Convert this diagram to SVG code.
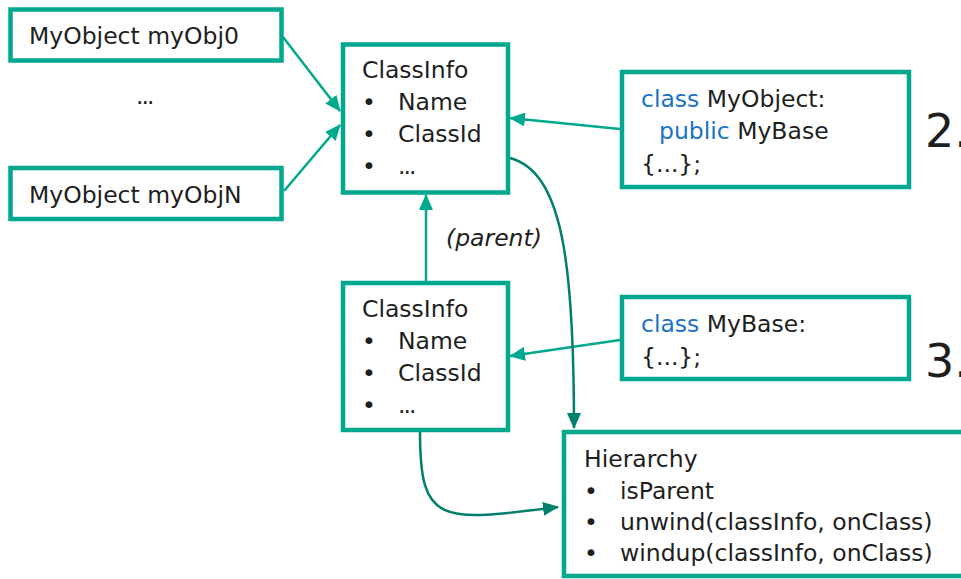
<svg xmlns="http://www.w3.org/2000/svg" width="961" height="579" viewBox="0 0 961 579">
<defs>
<style>
.box{fill:#fff;stroke:#00A88E;stroke-width:4.5}
.t{font-family:"DejaVu Sans",sans-serif;font-size:23.5px;fill:#1e1e1e}
.kw{fill:#1a73c4}
.big{font-family:"DejaVu Sans",sans-serif;font-size:46px;fill:#1e1e1e}
.it{font-family:"DejaVu Sans",sans-serif;font-size:23.5px;font-style:italic;fill:#1e1e1e}
.ln{fill:none;stroke:#00A88E;stroke-width:2.5}
.dk{fill:none;stroke:#00806C;stroke-width:2.5}
</style>
<marker id="a" markerUnits="userSpaceOnUse" markerWidth="16" markerHeight="14" refX="15" refY="7" orient="auto"><path d="M0,0 L16,7 L0,14 z" fill="#00A88E"/></marker>
<marker id="d" markerUnits="userSpaceOnUse" markerWidth="16" markerHeight="14" refX="15" refY="7" orient="auto"><path d="M0,0 L16,7 L0,14 z" fill="#00806C"/></marker>
</defs>
<rect width="961" height="579" fill="#fff"/>
<g id="connectors">
<path class="ln" d="M283,37 L340,111" marker-end="url(#a)"/>
<path class="ln" d="M284,191 L340,125" marker-end="url(#a)"/>
<path class="ln" d="M620,129 L510,118" marker-end="url(#a)"/>
<path class="ln" d="M426,281 L426,195" marker-end="url(#a)"/>
<path class="ln" d="M620,340 L510,356" marker-end="url(#a)"/>
<path class="dk" d="M510,158 C562,172 574,260 574,428" marker-end="url(#d)"/>
<path class="dk" d="M420,432 C420,525 440,522 558,507" marker-end="url(#d)"/>
</g>
<g id="obj0">
<rect class="box" x="10.5" y="9.5" width="271" height="51"/>
<text class="t" x="29" y="44">MyObject myObj0</text>
</g>
<text class="t" x="136" y="104" style="letter-spacing:-2px">...</text>
<g id="objN">
<rect class="box" x="10.5" y="168" width="271" height="51"/>
<text class="t" x="29" y="203">MyObject myObjN</text>
</g>
<g id="classinfo1">
<rect class="box" x="343" y="44.5" width="165" height="148"/>
<text class="t" x="362" y="78">ClassInfo</text>
<text class="t" x="362" y="110">•</text><text class="t" x="398" y="110">Name</text>
<text class="t" x="362" y="142">•</text><text class="t" x="398" y="142">ClassId</text>
<text class="t" x="362" y="174">•</text><text class="t" x="398" y="174" style="letter-spacing:-2px">...</text>
</g>
<g id="myobject">
<rect class="box" x="622" y="72" width="287" height="115"/>
<text class="t" x="641" y="107"><tspan class="kw">class</tspan> MyObject:</text>
<text class="t" x="659" y="139"><tspan class="kw">public</tspan> MyBase</text>
<text class="t" x="641" y="172">{...};</text>
</g>
<text class="big" x="925" y="147">2.</text>
<text class="it" x="446" y="246">(parent)</text>
<g id="classinfo2">
<rect class="box" x="343" y="283" width="165" height="147"/>
<text class="t" x="362" y="317">ClassInfo</text>
<text class="t" x="362" y="349">•</text><text class="t" x="398" y="349">Name</text>
<text class="t" x="362" y="381">•</text><text class="t" x="398" y="381">ClassId</text>
<text class="t" x="362" y="413">•</text><text class="t" x="398" y="413" style="letter-spacing:-2px">...</text>
</g>
<g id="mybase">
<rect class="box" x="622" y="297" width="287" height="82"/>
<text class="t" x="641" y="332"><tspan class="kw">class</tspan> MyBase:</text>
<text class="t" x="641" y="365">{...};</text>
</g>
<text class="big" x="925" y="377">3.</text>
<g id="hierarchy">
<rect class="box" x="564" y="432" width="420" height="144"/>
<text class="t" x="584" y="467">Hierarchy</text>
<text class="t" x="584" y="499">•</text><text class="t" x="620" y="499">isParent</text>
<text class="t" x="584" y="530">•</text><text class="t" x="620" y="530">unwind(classInfo, onClass)</text>
<text class="t" x="584" y="561">•</text><text class="t" x="620" y="561">windup(classInfo, onClass)</text>
</g>
</svg>
